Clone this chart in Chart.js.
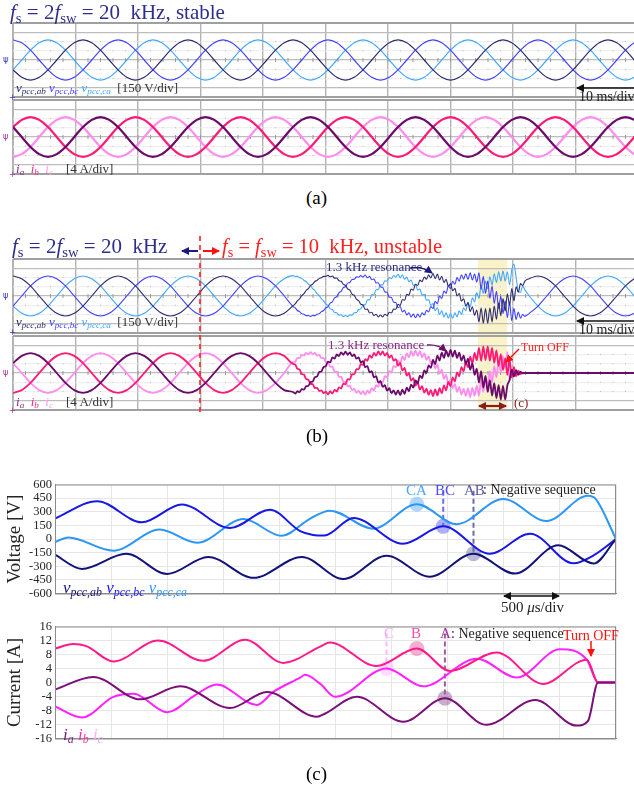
<!DOCTYPE html>
<html>
<head>
<meta charset="utf-8">
<script src="https://cdn.jsdelivr.net/npm/chart.js@4.4.1/dist/chart.umd.min.js"></script>
<style>
  body { margin: 0; background: #fff; }
  #page { position: relative; width: 634px; height: 787px; overflow: hidden; background: #fff; font-family: "Liberation Serif", "DejaVu Serif", serif; }
  canvas { position: absolute; }
  .t { position: absolute; white-space: nowrap; line-height: 1; }
  .t sub { font-size: 70%; vertical-align: -0.25em; }
  .m { position: absolute; font-size: 8px; line-height: 1; font-family: "DejaVu Sans", sans-serif; }
  i { font-style: italic; }
</style>
</head>
<body>
<div id="page">
  <!-- highlight behind traces -->
  <div style="position:absolute;left:478px;top:259px;width:29px;height:152px;background:#fbf3c8"></div>

  <canvas id="aV" width="627" height="76" style="left:12px;top:22px"></canvas>
  <canvas id="aI" width="627" height="76" style="left:12px;top:99px"></canvas>
  <canvas id="bV" width="627" height="76" style="left:12px;top:258px"></canvas>
  <canvas id="bI" width="627" height="76" style="left:12px;top:335px"></canvas>
  <canvas id="cV" width="630" height="130" style="left:0px;top:474px"></canvas>
  <canvas id="cI" width="630" height="133" style="left:0px;top:616px"></canvas>

  <!-- scope channel markers -->
  <div class="m" style="left:3px;top:56px;color:#3030c0">ψ</div>
  <div class="m" style="left:9px;top:94px;color:#3030c0">+</div>
  <div class="m" style="left:3px;top:133px;color:#a03090">ψ</div>
  <div class="m" style="left:9px;top:171px;color:#a03090">+</div>
  <div class="m" style="left:3px;top:292px;color:#3030c0">ψ</div>
  <div class="m" style="left:9px;top:329px;color:#3030c0">+</div>
  <div class="m" style="left:3px;top:369px;color:#a03090">ψ</div>
  <div class="m" style="left:9px;top:407px;color:#a03090">+</div>

  <!-- titles -->
  <div class="t" style="left:10px;top:2px;font-size:21px;color:#2e2e8f"><i>f</i><sub>s</sub> = 2<i>f</i><sub>sw</sub> = 20&nbsp;&nbsp;kHz, stable</div>
  <div class="t" style="left:12px;top:236px;font-size:21px;color:#2e2e8f"><i>f</i><sub>s</sub> = 2<i>f</i><sub>sw</sub> = 20&nbsp;&nbsp;kHz</div>
  <div class="t" style="left:222px;top:236px;font-size:20.5px;color:#ff2020"><i>f</i><sub>s</sub> = <i>f</i><sub>sw</sub> = 10&nbsp;&nbsp;kHz, unstable</div>

  <!-- scope labels -->
  <div class="t" style="left:16px;top:81px;font-size:13px"><span style="color:#2b2b70"><i>v</i><sub><i>pcc,ab</i></sub></span> <span style="color:#4040ff"><i>v</i><sub><i>pcc,bc</i></sub></span> <span style="color:#40a8ff"><i>v</i><sub><i>pcc,ca</i></sub></span> &nbsp;<span style="color:#333">[150 V/div]</span></div>
  <div class="t" style="left:16px;top:162px;font-size:13px"><span style="color:#8a2a8a"><i>i</i><sub><i>a</i></sub></span>&nbsp; <span style="color:#ff2a80"><i>i</i><sub><i>b</i></sub></span>&nbsp; <span style="color:#ff9cf0"><i>i</i><sub><i>c</i></sub></span> &nbsp;&nbsp;&nbsp;<span style="color:#333">[4 A/div]</span></div>
  <div class="t" style="left:16px;top:315px;font-size:13px"><span style="color:#2b2b70"><i>v</i><sub><i>pcc,ab</i></sub></span> <span style="color:#4040ff"><i>v</i><sub><i>pcc,bc</i></sub></span> <span style="color:#40a8ff"><i>v</i><sub><i>pcc,ca</i></sub></span> &nbsp;<span style="color:#333">[150 V/div]</span></div>
  <div class="t" style="left:16px;top:395px;font-size:13px"><span style="color:#8a2a8a"><i>i</i><sub><i>a</i></sub></span>&nbsp; <span style="color:#ff2a80"><i>i</i><sub><i>b</i></sub></span>&nbsp; <span style="color:#ff9cf0"><i>i</i><sub><i>c</i></sub></span> &nbsp;&nbsp;&nbsp;<span style="color:#333">[4 A/div]</span></div>
  <div class="t" style="left:579px;top:90px;font-size:14px;color:#222">10 ms/div</div>
  <div class="t" style="left:579px;top:323px;font-size:14px;color:#222">10 ms/div</div>
  <div class="t" style="left:326px;top:260px;font-size:13px;color:#2b2b80">1.3 kHz resonance</div>
  <div class="t" style="left:328px;top:338px;font-size:13px;color:#8a2a8a">1.3 kHz resonance</div>
  <div class="t" style="left:521px;top:341px;font-size:12px;color:#ff2020">Turn OFF</div>
  <div class="t" style="left:514px;top:396px;font-size:13px;color:#8b1a1a">(c)</div>

  <div class="t" style="left:306px;top:188px;font-size:19px">(a)</div>
  <div class="t" style="left:306px;top:426px;font-size:19px">(b)</div>
  <div class="t" style="left:306px;top:764px;font-size:19px">(c)</div>

  <!-- (c) annotations -->
  <div class="t" style="left:63px;top:579px;font-size:17px"><span style="color:#14147a"><i>v</i><sub><i>pcc,ab</i></sub></span> <span style="color:#2020e6"><i>v</i><sub><i>pcc,bc</i></sub></span> <span style="color:#3399ff"><i>v</i><sub><i>pcc,ca</i></sub></span></div>
  <div class="t" style="left:406px;top:483px;font-size:15px;color:#4da6ff">CA</div>
  <div class="t" style="left:435px;top:483px;font-size:15px;color:#4d4dff">BC</div>
  <div class="t" style="left:464px;top:483px;font-size:15px;color:#5a5aa8">AB</div>
  <div class="t" style="left:483px;top:483px;font-size:14px;color:#222">: Negative sequence</div>
  <div class="t" style="left:501px;top:600px;font-size:15px;color:#222">500 <i>μ</i>s/div</div>
  <div class="t" style="left:63px;top:726px;font-size:17px"><span style="color:#7a1a7a"><i>i</i><sub><i>a</i></sub></span> <span style="color:#ff3399"><i>i</i><sub><i>b</i></sub></span> <span style="color:#ffaaff"><i>i</i><sub><i>c</i></sub></span></div>
  <div class="t" style="left:384px;top:626px;font-size:15px;color:#ffaaff">C</div>
  <div class="t" style="left:411px;top:626px;font-size:15px;color:#ff4da6">B</div>
  <div class="t" style="left:440px;top:626px;font-size:15px;color:#993399">A</div>
  <div class="t" style="left:451px;top:627px;font-size:14px;color:#222">: Negative sequence</div>
  <div class="t" style="left:563px;top:629px;font-size:14px;color:#ff1010">Turn OFF</div>

  <svg width="634" height="787" style="position:absolute;left:0;top:0;pointer-events:none">
    <defs>
      <marker id="ak" markerWidth="8" markerHeight="8" refX="7" refY="4" orient="auto-start-reverse" markerUnits="userSpaceOnUse"><path d="M0,0 L8,4 L0,8 z" fill="#111"/></marker>
      <marker id="an" markerWidth="8" markerHeight="8" refX="7" refY="4" orient="auto" markerUnits="userSpaceOnUse"><path d="M0,0 L8,4 L0,8 z" fill="#1a1a80"/></marker>
      <marker id="ap" markerWidth="8" markerHeight="8" refX="7" refY="4" orient="auto" markerUnits="userSpaceOnUse"><path d="M0,0 L8,4 L0,8 z" fill="#6a106a"/></marker>
      <marker id="ar" markerWidth="8" markerHeight="8" refX="7" refY="4" orient="auto-start-reverse" markerUnits="userSpaceOnUse"><path d="M0,0 L8,4 L0,8 z" fill="#ff1010"/></marker>
      <marker id="ad" markerWidth="8" markerHeight="8" refX="7" refY="4" orient="auto-start-reverse" markerUnits="userSpaceOnUse"><path d="M0,0 L8,4 L0,8 z" fill="#8b1a1a"/></marker>
    </defs>
    <line x1="634" y1="88" x2="577" y2="88" stroke="#111" stroke-width="1.6" marker-end="url(#ak)"/>
    <line x1="634" y1="321" x2="577" y2="321" stroke="#111" stroke-width="1.6" marker-end="url(#ak)"/>
    <line x1="200" y1="236" x2="200" y2="412" stroke="#ff2020" stroke-width="1.6" stroke-dasharray="5,4"/>
    <line x1="198" y1="251" x2="182" y2="251" stroke="#1a1a80" stroke-width="2" marker-end="url(#an)"/>
    <line x1="203" y1="251" x2="219" y2="251" stroke="#ff1010" stroke-width="2" marker-end="url(#ar)"/>
    <path d="M410,268 Q422,266 432,273" fill="none" stroke="#1a1a80" stroke-width="1.4" marker-end="url(#an)"/>
    <path d="M427,345 Q438,344 446,351" fill="none" stroke="#6a106a" stroke-width="1.4" marker-end="url(#ap)"/>
    <line x1="519" y1="349" x2="506" y2="362" stroke="#ff1010" stroke-width="1.4" marker-end="url(#ar)"/>
    <line x1="479" y1="406" x2="506" y2="406" stroke="#8b1a1a" stroke-width="2.2" marker-start="url(#ad)" marker-end="url(#ad)"/>
    <line x1="504" y1="596" x2="559" y2="596" stroke="#111" stroke-width="1.5" marker-start="url(#ak)" marker-end="url(#ak)"/>
    <line x1="591" y1="641" x2="591" y2="656" stroke="#ff1010" stroke-width="1.5" marker-end="url(#ar)"/>
  </svg>
</div>

<script>
// ---------- (a) oscilloscope time base (ms), one sample per 30 deg of the 60 Hz wave
const tA = [0,1.4,2.8,4.2,5.6,7,8.4,9.8,11.2,12.6,14,15.4,16.8,18.2,19.6,21,22.4,23.8,25.2,26.6,28,29.4,
  30.8,32.2,33.6,35,36.4,37.8,39.2,40.6,42,43.4,44.8,46.2,47.6,49,50.4,51.8,53.2,54.6,56,57.4,58.8,60.2,61.6,63,
  64.4,65.8,67.2,68.6,70,71.4,72.8,74.2,75.6,77,78.4,79.8,81.2,82.6,84,85.4,86.8,88.2,89.6,91,92.4,93.8,95.2,
  96.6,98,99.4,100.8];

// ---------- (a) stable, voltages [V]
const vabA = [-160,-280,-325,-280,-160,0,160,280,
  325,280,160,0,-160,-280,-325,-280,-160,0,160,280,
  325,280,160,0,-160,-280,-325,-280,-160,0,160,280,
  325,280,160,0,-160,-280,-325,-280,-160,0,160,280,
  325,280,160,0,-160,-280,-325,-280,-160,0,160,280,
  325,280,160,0,-160,-280,-325,-280,-160,0,160,280,
  325,280,160,0,-160];
const vbcA = [325,280,160,0,-160,-280,-325,-280,-160,0,160,280,
  325,280,160,0,-160,-280,-325,-280,-160,0,160,280,
  325,280,160,0,-160,-280,-325,-280,-160,0,160,280,
  325,280,160,0,-160,-280,-325,-280,-160,0,160,280,
  325,280,160,0,-160,-280,-325,-280,-160,0,160,280,
  325,280,160,0,-160,-280,-325,-280,-160,0,160,280,
  325];
const vcaA = [-160,0,160,280,
  325,280,160,0,-160,-280,-325,-280,-160,0,160,280,
  325,280,160,0,-160,-280,-325,-280,-160,0,160,280,
  325,280,160,0,-160,-280,-325,-280,-160,0,160,280,
  325,280,160,0,-160,-280,-325,-280,-160,0,160,280,
  325,280,160,0,-160,-280,-325,-280,-160,0,160,280,
  325,280,160,0,-160,-280,-325,-280,-160];

// ---------- (a) stable, currents [A]
const iaA = [4.3,0,-4.3,-7.4,-8.6,-7.4,-4.3,0,4.3,7.4,
  8.6,7.4,4.3,0,-4.3,-7.4,-8.6,-7.4,-4.3,0,4.3,7.4,
  8.6,7.4,4.3,0,-4.3,-7.4,-8.6,-7.4,-4.3,0,4.3,7.4,
  8.6,7.4,4.3,0,-4.3,-7.4,-8.6,-7.4,-4.3,0,4.3,7.4,
  8.6,7.4,4.3,0,-4.3,-7.4,-8.6,-7.4,-4.3,0,4.3,7.4,
  8.6,7.4,4.3,0,-4.3,-7.4,-8.6,-7.4,-4.3,0,4.3,7.4,
  8.6,7.4,4.3];
const ibA = [4.3,7.4,
  8.6,7.4,4.3,0,-4.3,-7.4,-8.6,-7.4,-4.3,0,4.3,7.4,
  8.6,7.4,4.3,0,-4.3,-7.4,-8.6,-7.4,-4.3,0,4.3,7.4,
  8.6,7.4,4.3,0,-4.3,-7.4,-8.6,-7.4,-4.3,0,4.3,7.4,
  8.6,7.4,4.3,0,-4.3,-7.4,-8.6,-7.4,-4.3,0,4.3,7.4,
  8.6,7.4,4.3,0,-4.3,-7.4,-8.6,-7.4,-4.3,0,4.3,7.4,
  8.6,7.4,4.3,0,-4.3,-7.4,-8.6,-7.4,-4.3,0,4.3];
const icA = [-8.6,-7.4,-4.3,0,4.3,7.4,
  8.6,7.4,4.3,0,-4.3,-7.4,-8.6,-7.4,-4.3,0,4.3,7.4,
  8.6,7.4,4.3,0,-4.3,-7.4,-8.6,-7.4,-4.3,0,4.3,7.4,
  8.6,7.4,4.3,0,-4.3,-7.4,-8.6,-7.4,-4.3,0,4.3,7.4,
  8.6,7.4,4.3,0,-4.3,-7.4,-8.6,-7.4,-4.3,0,4.3,7.4,
  8.6,7.4,4.3,0,-4.3,-7.4,-8.6,-7.4,-4.3,0,4.3,7.4,
  8.6,7.4,4.3,0,-4.3,-7.4,-8.6];

// ---------- (b) time base (ms): coarse while stable, 0.35 ms where the 1.3 kHz ripple shows, coarse after turn-off
const tB = [0,1.4,2.8,4.2,5.6,7,8.4,9.8,11.2,12.6,14,15.4,16.8,18.2,19.6,21,22.4,23.8,25.2,26.6,28,29.4,
  30.8,32.2,33.6,35,36.4,37.8,39.2,40.6,42,43.4,
  44.8,45.15,45.5,45.85,46.2,46.55,46.9,47.25,47.6,47.95,48.3,48.65,49,49.35,49.7,50.05,
  50.4,50.75,51.1,51.45,51.8,52.15,52.5,52.85,53.2,53.55,53.9,54.25,54.6,54.95,55.3,55.65,
  56,56.35,56.7,57.05,57.4,57.75,58.1,58.45,58.8,59.15,59.5,59.85,60.2,60.55,60.9,61.25,
  61.6,61.95,62.3,62.65,63,63.35,63.7,64.05,64.4,64.75,65.1,65.45,65.8,66.15,66.5,66.85,
  67.2,67.55,67.9,68.25,68.6,68.95,69.3,69.65,70,70.35,70.7,71.05,71.4,71.75,72.1,72.45,
  72.8,73.15,73.5,73.85,74.2,
  74.55,74.9,75.25,75.6,75.95,76.3,76.65,77,77.35,77.7,78.05,78.4,78.75,79.1,
  79.45,79.8,80.15,80.5,80.85,81.2,81.55,81.9,
  82.6,84,85.4,86.8,88.2,89.6,91,92.4,93.8,95.2,96.6,98,99.4,100.8];

const vabB = [325,281,163,0,-163,-281,-325,-281,-163,0,163,281,
  325,281,163,0,-163,-281,-325,-281,-163,0,163,281,
  325,281,163,0,-163,-281,-325,-281,
  -158,-129,-79,-47,5,37,89,119,168,193,235,253,286,295,319,317,
  335,312,324,290,291,248,240,188,173,114,94,32,10,-52,-74,-134,
  -145,-216,-212,-276,-263,-318,-296,-340,-307,-340,-296,-318,-263,-276,-212,-216,
  -135,-152,-56,-70,28,14,112,95,191,170,258,230,309,272,342,294,
  365,282,354,260,321,218,270,158,203,84,124,2,40,-82,-44,-164,
  -108,-253,-175,-313,-226,
  -420,-194,-442,-205,-442,-194,-420,-161,-378,-110,-318,-43,-244,36,
  -150,120,-80,150,60,200,170,240,
  281,325,281,163,0,-163,-281,-325,-281,-163,0,163,281,325];
const vbcB = [-163,0,163,281,325,281,163,0,-163,-281,-325,-281,
  -163,0,163,281,325,281,163,0,-163,-281,-325,-281,
  -163,0,163,281,325,281,163,0,
  -168,-193,-235,-253,-286,-295,-319,-317,-330,-317,-319,-295,-286,-253,-235,-193,
  -173,-114,-94,-32,-10,52,74,134,153,208,220,268,271,310,304,332,
  307,340,296,318,263,276,212,216,145,142,66,60,-18,-24,-102,-106,
  -191,-170,-258,-230,-309,-272,-342,-294,-353,-294,-342,-272,-309,-230,-258,-170,
  -203,-84,-124,-2,-40,82,44,164,123,238,190,298,241,345,274,362,
  270,377,259,355,226,
  378,110,318,43,244,-36,162,-120,78,-204,-4,-283,-78,-350,
  -100,-400,-200,-380,-260,-360,-300,-330,
  -281,-163,0,163,281,325,281,163,0,-163,-281,-325,-281,-163];
const vcaB = [-163,-281,-325,-281,-163,0,163,281,325,281,163,0,
  -163,-281,-325,-281,-163,0,163,281,325,281,163,0,
  -163,-281,-325,-281,-163,0,163,281,
  330,317,319,295,286,253,235,193,168,119,89,37,5,-47,-79,-129,
  -153,-208,-220,-268,-271,-310,-304,-332,-315,-332,-304,-310,-271,-268,-220,-208,
  -145,-142,-66,-60,18,24,102,106,181,180,248,240,299,282,332,304,
  353,294,342,272,309,230,258,170,191,96,112,14,28,-70,-56,-152,
  -123,-238,-190,-298,-241,-340,-274,-362,-285,-362,-274,-340,-241,-298,-190,-238,
  -108,-179,-29,-97,55,
  -38,164,44,243,118,310,179,361,220,394,242,405,242,394,
  180,420,520,300,80,60,160,100,
  0,-163,-281,-325,-281,-163,0,163,281,325,281,163,0,-163];

const iaB = [4.3,7.4,8.6,7.4,4.3,0,-4.3,-7.4,-8.6,-7.4,-4.3,0,
  4.3,7.4,8.6,7.4,4.3,0,-4.3,-7.4,-8.6,-7.4,-4.3,0,
  4.3,7.4,8.6,7.4,4.3,0,-4.3,-7.4,
  -8.2,-8.9,-7.9,-8.3,-7.0,-7.2,-5.7,-5.6,-3.9,-3.7,-1.8,-1.5,0.4,0.7,2.6,2.9,
  4.9,4.6,6.7,6.2,8.0,7.3,8.9,7.9,9.2,7.9,8.9,7.3,8.0,6.2,6.7,4.6,
  5.1,2.5,3.0,0.3,0.8,-1.9,-1.4,-4.1,-3.5,-6.0,-5.3,-7.6,-6.6,-8.7,-7.5,-9.3,
  -7.5,-9.6,-7.2,-9.0,-6.3,-7.9,-5.0,-6.3,-3.2,-4.4,-1.1,-2.2,1.1,0.0,3.3,2.2,
  5.7,3.8,7.5,5.4,8.8,6.5,9.7,7.1,10.0,7.1,9.7,6.5,8.8,5.4,7.5,3.8,
  6.2,1.4,4.1,-0.8,1.9,
  -4.1,0.8,-6.3,-1.3,-8.2,-3.1,-9.8,-4.4,-10.9,-5.3,-11.5,-5.6,-11.5,-5.3,
  -3,1.5,-1.5,1.2,-0.8,0.5,-0.2,0,
  0,0,0,0,0,0,0,0,0,0,0,0,0,0];
const ibB = [-8.6,-7.4,-4.3,0,4.3,7.4,8.6,7.4,4.3,0,-4.3,-7.4,
  -8.6,-7.4,-4.3,0,4.3,7.4,8.6,7.4,4.3,0,-4.3,-7.4,
  -8.6,-7.4,-4.3,0,4.3,7.4,8.6,7.4,
  3.9,3.7,1.8,1.5,-0.4,-0.7,-2.6,-2.9,-4.7,-4.8,-6.5,-6.4,-7.8,-7.5,-8.7,-8.1,
  -9.2,-7.9,-8.9,-7.3,-8.0,-6.2,-6.7,-4.6,-4.9,-2.7,-2.8,-0.5,-0.6,1.7,1.6,3.9,
  3.5,6.0,5.3,7.6,6.6,8.7,7.5,9.3,7.8,9.3,7.5,8.7,6.6,7.6,5.3,6.0,
  3.2,4.4,1.1,2.2,-1.1,0.0,-3.3,-2.2,-5.4,-4.1,-7.2,-5.7,-8.5,-6.8,-9.4,-7.4,
  -10.0,-7.1,-9.7,-6.5,-8.8,-5.4,-7.5,-3.8,-5.7,-1.9,-3.6,0.3,-1.4,2.5,0.8,4.7,
  2.4,7.1,4.2,8.7,5.5,
  10.9,5.3,11.5,5.6,11.5,5.3,10.9,4.4,9.8,3.1,8.2,1.3,6.3,-0.8,
  6,-2,2.5,-1.5,1,-0.5,0.2,0,
  0,0,0,0,0,0,0,0,0,0,0,0,0,0];
const icB = [4.3,0,-4.3,-7.4,-8.6,-7.4,-4.3,0,4.3,7.4,8.6,7.4,
  4.3,0,-4.3,-7.4,-8.6,-7.4,-4.3,0,4.3,7.4,8.6,7.4,
  4.3,0,-4.3,-7.4,-8.6,-7.4,-4.3,0,
  4.7,4.8,6.5,6.4,7.8,7.5,8.7,8.1,9.0,8.1,8.7,7.5,7.8,6.4,6.5,4.8,
  4.9,2.7,2.8,0.5,0.6,-1.7,-1.6,-3.9,-3.7,-5.8,-5.5,-7.4,-6.8,-8.5,-7.7,-9.1,
  -7.8,-9.3,-7.5,-8.7,-6.6,-7.6,-5.3,-6.0,-3.5,-4.1,-1.4,-1.9,0.8,0.3,3.0,2.5,
  5.4,4.1,7.2,5.7,8.5,6.8,9.4,7.4,9.7,7.4,9.4,6.8,8.5,5.7,7.2,4.1,
  5.7,1.9,3.6,-0.3,1.4,-2.5,-0.8,-4.7,-2.9,-6.6,-4.7,-8.2,-6.0,-9.3,-6.9,-9.9,
  -6.7,-10.4,-6.4,-9.8,-5.5,
  -9.8,-3.1,-8.2,-1.3,-6.3,0.8,-4.1,3.0,-1.9,5.2,0.3,7.3,2.2,9.1,
  -3,1,-1.5,1,-0.5,0.3,0,0,
  0,0,0,0,0,0,0,0,0,0,0,0,0,0];

// ---------- (c) zoom before turn-off, time in microseconds
const vabC = [[0,-173],[240,-329],[635,-163],[1000,-385],[1365,-198],[1770,-427],[2200,-198],[2570,-440],
  [2955,-184],[3340,-416],[3730,-163],[4100,-381],[4485,-69],[4800,-270],[5000,0]];
const vbcC = [[0,225],[375,416],[775,184],[1130,381],[1560,121],[1915,323],[2185,87],[2300,45],[2400,38],
  [2660,232],[3100,-52],[3460,139],[3875,-163],[4235,59],[4620,-267],[4800,-180],[5000,0]];
const vcaC = [[0,-34],[120,17],[520,-128],[935,104],[1265,-42],[1680,219],[2020,35],[2275,225],[2450,312],
  [2835,114],[3225,382],[3580,163],[3995,440],[4380,198],[4750,475],[4820,440],[5000,0]];
const iaC = [[0,-2.0],[340,1.6],[760,-4.8],[1115,-1.1],[1560,-7.3],[1890,-2.7],[2335,-9.8],[2400,-9.0],
  [2690,-4.1],[3105,-11.2],[3475,-4.5],[3845,-12.1],[4280,-5.0],[4650,-12.3],[4750,-11],[4840,0],[5000,0]];
const ibC = [[0,9.7],[160,11.0],[280,10.4],[520,6.0],[920,12.0],[1320,6.2],[1695,12.2],[2035,5.6],[2360,10.2],
  [2450,11.4],[2865,4.7],[3225,9.7],[3520,3.3],[3935,8.6],[4350,-0.4],[4740,6.5],[4840,0],[5000,0]];
const icC = [[0,-6.8],[240,-10.0],[520,-4.1],[700,-3.2],[1000,-8.5],[1250,-3.6],[1440,-0.6],[1800,-6.4],
  [1945,-2.7],[2185,1.4],[2230,2.2],[2365,-0.4],[2495,-4.1],[2955,4.0],[3280,-1.1],[3760,6.8],
  [4115,1.4],[4500,9.5],[4740,6.5],[4840,0],[5000,0]];

// negative-sequence markers: [time, value]
const vMarks = { CA: [3225, 382], BC: [3460, 139], AB: [3730, -163] };
const iMarks = { C: [2955, 4.0], B: [3225, 9.7], A: [3475, -4.5] };
const vLabelLevel = 530;
const iLabelLevel = 14;

// ---------- colors
const scopeV = ['#2b2b70', '#4040ff', '#40a8ff'];
const scopeI = ['#6a0a6a', '#ff1a75', '#ff8cf0'];
const matV = ['#12127a', '#1818e6', '#2a96f5'];
const matI = ['#7a0f7a', '#ff1a8c', '#ff22ff'];
const SERIF = '"Liberation Serif", "DejaVu Serif", serif';

const plain = { animation: false, responsive: false, events: [] };

// scope screen: sub-division ticks on the centre line and dotted rows
const scopeGrid = {
  id: 'scopeGrid',
  beforeDatasetsDraw(chart) {
    const xs = chart.scales.x, ys = chart.scales.y, ctx = chart.ctx;
    const yMax = ys.max, y0 = ys.getPixelForValue(0);
    ctx.save();
    for (let t = 0; t <= 100; t += 2) {
      const px = xs.getPixelForValue(t);
      ctx.fillStyle = '#9a9a9a';
      ctx.fillRect(px - 0.5, y0 - 2, 1, 4);
      ctx.fillStyle = '#bcbcbc';
      [-0.5, -0.25, 0.25, 0.5].forEach(f => {
        ctx.fillRect(px - 0.5, ys.getPixelForValue(f * yMax) - 0.5, 1, 1);
      });
    }
    ctx.restore();
  }
};

function scopeChart(id, times, series, colors, widths, yMax) {
  new Chart(document.getElementById(id), {
    type: 'line',
    data: {
      datasets: series.map((s, k) => ({
        data: times.map((t, i) => ({ x: t, y: s[i] })),
        borderColor: colors[k],
        borderWidth: widths,
        pointRadius: 0,
        cubicInterpolationMode: 'monotone'
      }))
    },
    options: {
      ...plain,
      layout: { padding: 1 },
      plugins: { legend: { display: false }, tooltip: { enabled: false } },
      scales: {
        x: {
          type: 'linear', min: 0, max: 100,
          ticks: { display: false, stepSize: 10 },
          grid: { drawTicks: false, color: '#b4b4b4', lineWidth: c => c.tick.value === 0 ? 2 : 1.4 },
          border: { display: false }
        },
        y: {
          min: -yMax, max: yMax,
          ticks: { display: false, stepSize: yMax / 4 },
          grid: {
            drawTicks: false,
            color: c => {
              const v = Math.abs(c.tick.value);
              if (v === yMax) return '#a0a0a0';
              if (v === 0 || v === yMax * 0.75) return '#bdbdbd';
              return '#f0f0f0';
            },
            lineWidth: c => Math.abs(c.tick.value) === yMax ? 2 : 1.2
          },
          border: { display: false }
        }
      }
    },
    plugins: [scopeGrid]
  });
}

scopeChart('aV', tA, [vabA, vbcA, vcaA], scopeV, 1.2, 600);
scopeChart('aI', tA, [iaA, ibA, icA], scopeI, 2.2, 16);
scopeChart('bV', tB, [vabB, vbcB, vcaB], scopeV, 1.1, 600);
scopeChart('bI', tB, [iaB, ibB, icB], scopeI, 1.8, 16);

// box around MATLAB-style axes
const boxPlugin = {
  id: 'box',
  afterDraw(chart) {
    const a = chart.chartArea, ctx = chart.ctx;
    ctx.save();
    ctx.strokeStyle = '#8c8c8c';
    ctx.lineWidth = 1;
    ctx.strokeRect(a.left + 0.5, a.top + 0.5, a.right - a.left - 1, a.bottom - a.top);
    ctx.restore();
  }
};

function markSets(marks, colors, dashColors, level) {
  const keys = Object.keys(marks);
  const sets = [];
  keys.forEach((k, i) => {
    if (dashColors[i]) {
      sets.push({
        data: [{ x: marks[k][0], y: level }, { x: marks[k][0], y: marks[k][1] }],
        borderColor: dashColors[i], borderWidth: 2, borderDash: [5, 3], pointRadius: 0
      });
    }
    sets.push({
      data: [{ x: marks[k][0], y: marks[k][1] }],
      showLine: false, pointRadius: 7.5, pointBorderWidth: 0,
      pointBackgroundColor: colors[i]
    });
  });
  return sets;
}

function matChart(id, series, colors, yMax, step, title, marks, markColors, dashColors, level, pad) {
  const sets = series.map((s, k) => ({
    data: s.map(p => ({ x: p[0], y: p[1] })),
    borderColor: colors[k], borderWidth: 2, pointRadius: 0,
    cubicInterpolationMode: 'monotone'
  }));
  new Chart(document.getElementById(id), {
    type: 'line',
    data: { datasets: sets.concat(markSets(marks, markColors, dashColors, level)) },
    options: {
      ...plain,
      layout: { padding: pad },
      plugins: { legend: { display: false }, tooltip: { enabled: false } },
      scales: {
        x: {
          type: 'linear', min: 0, max: 5000,
          ticks: { display: false, stepSize: 500 },
          grid: { drawTicks: false, color: '#e6e6e6' },
          border: { color: '#8c8c8c' },
          afterFit: s => { s.height = 0; }
        },
        y: {
          min: -yMax, max: yMax,
          ticks: { stepSize: step, autoSkip: false, padding: 3, color: '#262626', font: { family: SERIF, size: 12.5 } },
          grid: { drawTicks: false, color: '#e6e6e6' },
          border: { color: '#8c8c8c' },
          title: { display: true, text: title, color: '#262626', font: { family: SERIF, size: 19 }, padding: { top: 4, bottom: 0 } },
          afterFit: s => { s.width = 55; }
        }
      }
    },
    plugins: [boxPlugin]
  });
}

matChart('cV', [vabC, vbcC, vcaC], matV, 600, 150, 'Voltage [V]', vMarks,
  ['rgba(110,180,255,0.55)', 'rgba(110,110,240,0.55)', 'rgba(80,80,150,0.4)'],
  [null, '#6b6be8', '#6a6aaa'], vLabelLevel, { top: 10, right: 14, bottom: 5, left: 0 });
matChart('cI', [iaC, ibC, icC], matI, 16, 4, 'Current [A]', iMarks,
  ['rgba(255,190,255,0.55)', 'rgba(235,110,170,0.55)', 'rgba(120,50,120,0.4)'],
  ['#ffb8ff', null, '#a15aa1'], iLabelLevel, { top: 10, right: 14, bottom: 6, left: 0 });
</script>
</body>
</html>
